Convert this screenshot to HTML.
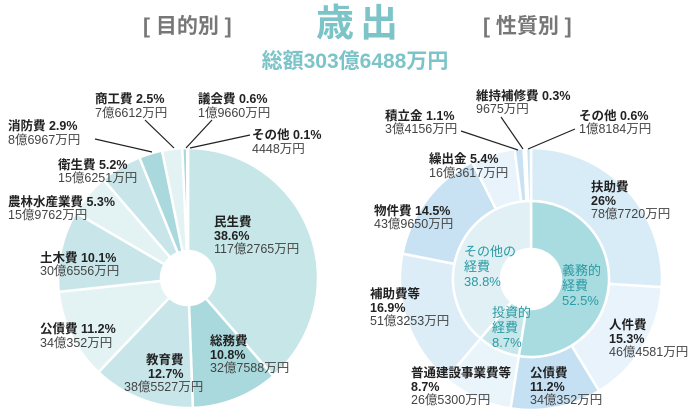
<!DOCTYPE html>
<html><head><meta charset="utf-8"><style>
html,body{margin:0;padding:0;background:#fff;width:699px;height:419px;overflow:hidden}
svg{display:block}
text{font-family:"Liberation Sans","Noto Sans CJK JP",sans-serif}
.b{font-weight:bold;fill:#222;font-size:12.5px}
.n{fill:#444;font-size:12.5px}
.t{fill:#2a9aa3;font-size:13px}
</style></head><body>
<svg id="s" width="699" height="419" viewBox="0 0 699 419" xmlns="http://www.w3.org/2000/svg">
<g id="g"></g>
<text x="143" y="33" font-size="21" fill="#777" font-weight="bold">[ 目的別 ]</text>
<text x="483" y="33" font-size="21" fill="#777" font-weight="bold">[ 性質別 ]</text>
<text x="316" y="36" font-size="38" fill="#7cc4c8" font-weight="bold" letter-spacing="6">歳出</text>
<text x="355" y="68" font-size="21" fill="#7cc4c8" font-weight="bold" text-anchor="middle">総額303億6488万円</text>
<g stroke="#222" stroke-width="1.2">
<line x1="95" y1="139" x2="152" y2="152"/>
<line x1="145" y1="120" x2="174" y2="148"/>
<line x1="212" y1="120" x2="186" y2="148"/>
<line x1="250" y1="135" x2="190" y2="148"/>
<line x1="461" y1="131" x2="518" y2="150"/>
<line x1="501" y1="117" x2="523" y2="149"/>
<line x1="575" y1="129" x2="528" y2="149"/>
</g>
<text class="b" x="8" y="130">消防費 2.9%</text><text class="n" x="8" y="144">8億6967万円</text>
<text class="b" x="95" y="103">商工費 2.5%</text><text class="n" x="95" y="117">7億6612万円</text>
<text class="b" x="198" y="103">議会費 0.6%</text><text class="n" x="198" y="117">1億9660万円</text>
<text class="b" x="252" y="139">その他 0.1%</text><text class="n" x="252" y="153">4448万円</text>
<text class="b" x="58" y="169">衛生費 5.2%</text><text class="n" x="58" y="182">15億6251万円</text>
<text class="b" x="8" y="206">農林水産業費 5.3%</text><text class="n" x="8" y="219">15億9762万円</text>
<text class="b" x="40" y="262">土木費 10.1%</text><text class="n" x="40" y="275">30億6556万円</text>
<text class="b" x="40" y="333">公債費 11.2%</text><text class="n" x="40" y="347">34億352万円</text>
<text class="b" x="146" y="364">教育費</text><text class="b" x="148" y="378">12.7%</text><text class="n" x="124" y="391">38億5527万円</text>
<text class="b" x="210" y="345">総務費</text><text class="b" x="210" y="359">10.8%</text><text class="n" x="210" y="372">32億7588万円</text>
<text class="b" x="214" y="226">民生費</text><text class="b" x="214" y="240">38.6%</text><text class="n" x="214" y="253">117億2765万円</text>

<text class="b" x="476" y="100">維持補修費 0.3%</text><text class="n" x="476" y="113">9675万円</text>
<text class="b" x="385" y="120">積立金 1.1%</text><text class="n" x="385" y="133">3億4156万円</text>
<text class="b" x="579" y="120">その他 0.6%</text><text class="n" x="579" y="133">1億8184万円</text>
<text class="b" x="429" y="163">繰出金 5.4%</text><text class="n" x="429" y="177">16億3617万円</text>
<text class="b" x="374" y="215">物件費 14.5%</text><text class="n" x="374" y="228">43億9650万円</text>
<text class="b" x="591" y="191">扶助費</text><text class="b" x="591" y="205">26%</text><text class="n" x="591" y="218">78億7720万円</text>
<text class="b" x="370" y="298">補助費等</text><text class="b" x="370" y="312">16.9%</text><text class="n" x="370" y="325">51億3253万円</text>
<text class="b" x="609" y="329">人件費</text><text class="b" x="609" y="343">15.3%</text><text class="n" x="609" y="356">46億4581万円</text>
<text class="b" x="411" y="377">普通建設事業費等</text><text class="b" x="411" y="391">8.7%</text><text class="n" x="411" y="404">26億5300万円</text>
<text class="b" x="530" y="377">公債費</text><text class="b" x="530" y="391">11.2%</text><text class="n" x="530" y="404">34億352万円</text>
<text class="t" x="464" y="256">その他の</text><text class="t" x="464" y="271">経費</text><text class="t" x="464" y="286">38.8%</text>
<text class="t" x="562" y="275">義務的</text><text class="t" x="562" y="290">経費</text><text class="t" x="562" y="305">52.5%</text>
<text class="t" x="492" y="317">投資的</text><text class="t" x="492" y="332">経費</text><text class="t" x="492" y="347">8.7%</text>
</svg>
<script>
function arc(cx,cy,r0,r1,a0,a1,fill){
 var f=function(r,a){var t=(a*3.6-90)*Math.PI/180;return (cx+r*Math.cos(t)).toFixed(2)+","+(cy+r*Math.sin(t)).toFixed(2)};
 var l=(a1-a0)>50?1:0;
 var d="M"+f(r1,a0)+"A"+r1+","+r1+" 0 "+l+" 1 "+f(r1,a1)+"L"+f(r0,a1)+"A"+r0+","+r0+" 0 "+l+" 0 "+f(r0,a0)+"Z";
 var p=document.createElementNS("http://www.w3.org/2000/svg","path");
 p.setAttribute("d",d);p.setAttribute("fill",fill);p.setAttribute("stroke","#fff");p.setAttribute("stroke-width","2.5");
 document.getElementById("g").appendChild(p);
}
function pie(cx,cy,r0,r1,data){var a=0;data.forEach(function(x){arc(cx,cy,r0,r1,a,a+x[0],x[1]);a+=x[0];});}
pie(188,278,27,130,[[38.6,"#c6e6e8"],[10.8,"#a9d9dc"],[12.7,"#c8e6e9"],[11.2,"#e3f2f3"],[10.1,"#c8e6e9"],[5.3,"#e3f2f3"],[5.2,"#c8e6e9"],[2.9,"#a9d9dc"],[2.5,"#e3f2f3"],[0.6,"#a9d9dc"],[0.1,"#c8e6e9"]]);
pie(531,279,78,131,[[26,"#d8ecf8"],[15.3,"#e8f3fb"],[11.2,"#c5e0f3"],[8.7,"#eaf4fb"],[16.9,"#dcedf8"],[14.5,"#c8e2f4"],[5.4,"#e8f3fb"],[1.1,"#c8e2f4"],[0.3,"#e8f3fb"],[0.6,"#c8e2f4"]]);
pie(531,279,30,78,[[52.5,"#a9dce0"],[8.7,"#c8e7ea"],[38.8,"#e0f0f4"]]);
</script>
</body></html>
